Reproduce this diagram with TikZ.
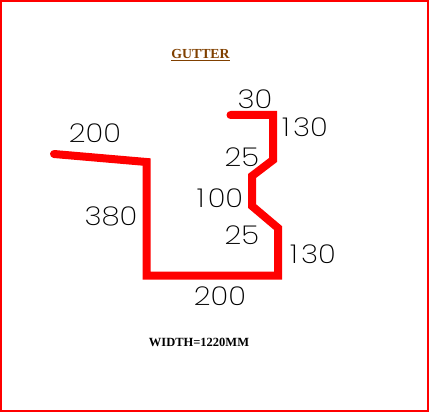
\documentclass[tikz,border=0pt]{standalone}
\usepackage{fontspec}
\setmainfont{Liberation Serif}
\newfontfamily\dimfont{Poppins ExtraLight}
\newcommand{\onegap}{1\kern 3pt}
\tikzset{
  dimlabel/.style={inner sep=0pt,text=black,font=\dimfont\fontsize{26}{26}\selectfont,xscale=1.13},
  profile/.style={draw=red,line width=8pt,line join=miter,line cap=round},
  titlelabel/.style={inner sep=0pt,text={rgb,255:red,128;green,64;blue,0},font=\bfseries\fontsize{13.8}{15}\selectfont},
  notelabel/.style={inner sep=0pt,text=black,font=\bfseries\fontsize{12.5}{14}\selectfont}
}
\begin{document}
\begin{tikzpicture}[x=1pt,y=-1pt]
\useasboundingbox (0,0) rectangle (429,412);
\draw[draw=red,line width=2pt] (1,1) rectangle (428,411);
\coordinate (p0) at (54,154);
\coordinate (p1) at (146.5,162);
\coordinate (p2) at (146.5,275.5);
\coordinate (p3) at (278,275.5);
\coordinate (p4) at (278,228);
\coordinate (p5) at (252,206);
\coordinate (p6) at (252,176);
\coordinate (p7) at (273,160);
\coordinate (p8) at (273,115);
\coordinate (p9) at (230.5,115);
\draw[profile] (p0) -- (p1) -- (p2) -- (p3) -- (p4) -- (p5) -- (p6) -- (p7) -- (p8) -- (p9);
\node[titlelabel] (title) at (200.5,55) {\underline{GUTTER}};
\node[notelabel] (note) at (199,342) {WIDTH=1220MM};
\node[dimlabel] (d30) at (255,99) {30};
\node[dimlabel] (d130a) at (305,127) {\onegap 30};
\node[dimlabel] (d25a) at (242,157) {25};
\node[dimlabel] (d100) at (220,198) {\onegap 00};
\node[dimlabel] (d25b) at (242,235) {25};
\node[dimlabel] (d130b) at (313,254) {\onegap 30};
\node[dimlabel] (d200a) at (95,133) {200};
\node[dimlabel] (d380) at (111,216) {380};
\node[dimlabel] (d200b) at (220,296) {200};
\end{tikzpicture}
\end{document}
